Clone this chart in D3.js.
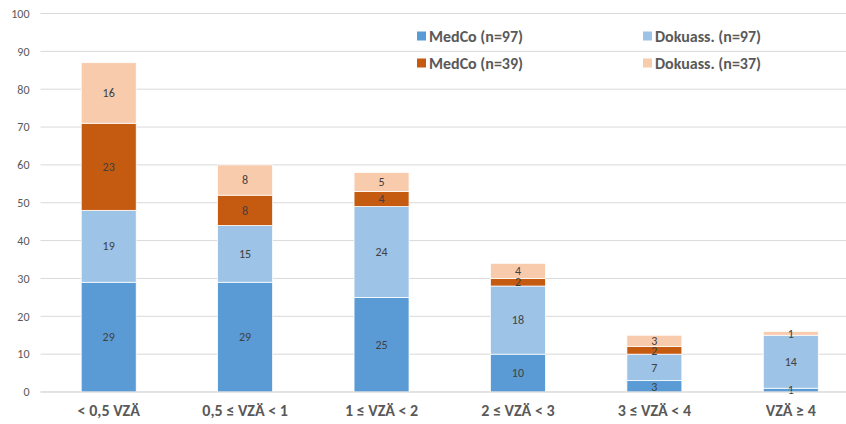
<!DOCTYPE html>
<html><head><meta charset="utf-8">
<script src="https://cdn.jsdelivr.net/npm/d3@7"></script>
<style>body{margin:0;background:#fff}svg{display:block}</style>
</head><body>
<svg id="c" width="846" height="424"></svg>
<script>
const categories = ["< 0,5 VZÄ","0,5 ≤ VZÄ < 1","1 ≤ VZÄ < 2","2 ≤ VZÄ < 3","3 ≤ VZÄ < 4","VZÄ ≥ 4"];
const seriesNames = ["MedCo (n=97)","Dokuass. (n=97)","MedCo (n=39)","Dokuass. (n=37)"];
const medco97 = [29,29,25,10,3,1];
const doku97 = [19,15,24,18,7,14];
const medco39 = [23,8,4,2,2,0];
const doku37 = [16,8,5,4,3,1];
const yTicks = [0,10,20,30,40,50,60,70,80,90,100];
const colors = ["#5B9BD5","#9DC3E6","#C55A11","#F8CBAD"];

const seriesValues = [medco97, doku97, medco39, doku37];
const table = categories.map((c,i)=>{const o={cat:c}; seriesNames.forEach((s,j)=>o[s]=seriesValues[j][i]); return o;});
const stack = d3.stack().keys(seriesNames)(table);

const svg = d3.select("#c");
const x = d3.scaleBand().domain(categories).range([40.5, 859]).paddingInner(0.597).paddingOuter(0.2985);
const y = d3.scaleLinear().domain([0,100]).range([392,13.5]);
const font = "Carlito, 'Open Sans', 'Liberation Sans', sans-serif";

// gridlines
svg.append("g").selectAll("line").data(yTicks).join("line")
  .attr("x1",40.5).attr("x2",846).attr("y1",d=>y(d)).attr("y2",d=>y(d))
  .attr("stroke","#D9D9D9").attr("stroke-width",1);

// y axis labels
const yAxis = d3.axisLeft(y).tickValues(yTicks).tickSize(0).tickPadding(0);
const ga = svg.append("g").attr("transform","translate(29.5,0)").call(yAxis);
ga.select(".domain").remove();
ga.selectAll("text").attr("font-family",font).attr("font-size",12).attr("fill","#595959");

// bars
const g = svg.append("g");
stack.forEach((layer,j)=>{
  g.append("g").selectAll("rect").data(layer).join("rect")
    .attr("x",d=>x(d.data.cat)).attr("width",x.bandwidth())
    .attr("y",d=>y(d[1])).attr("height",d=>y(d[0])-y(d[1]))
    .attr("fill",colors[j]).attr("stroke","#fff").attr("stroke-width",0.75);
});
// labels
stack.forEach((layer,j)=>{
  g.append("g").selectAll("text").data(layer.filter(d=>d[1]-d[0]>0)).join("text")
    .attr("x",d=>x(d.data.cat)+x.bandwidth()/2)
    .attr("y",d=>(y(d[0])+y(d[1]))/2)
    .attr("dy","0.35em").attr("text-anchor","middle")
    .attr("font-family",font).attr("font-size",12).attr("fill","#404040")
    .text(d=>d[1]-d[0]);
});

// x axis line
svg.append("line").attr("x1",40.5).attr("x2",846).attr("y1",y(0)).attr("y2",y(0)).attr("stroke","#D9D9D9");
const xAxis = d3.axisBottom(x).tickSize(0).tickPadding(0);
const gx = svg.append("g").attr("transform",`translate(0,${y(0)+18})`).call(xAxis);
gx.select(".domain").remove();
gx.selectAll("text").attr("font-family",font).attr("font-size",16).attr("font-weight","bold").attr("fill","#595959").attr("dy","0.35em");

// legend
const legPos = [[417,36],[643,36],[417,63],[643,63]];
const lg = svg.append("g");
seriesNames.forEach((s,i)=>{
  const [lx,ly]=legPos[i];
  lg.append("rect").attr("x",lx).attr("y",ly-4.5).attr("width",9).attr("height",9).attr("fill",colors[i]);
  lg.append("text").attr("x",lx+12).attr("y",ly).attr("dy","0.35em")
    .attr("font-family",font).attr("font-size",16).attr("font-weight","bold").attr("fill","#595959").text(s);
});
</script>
</body></html>
